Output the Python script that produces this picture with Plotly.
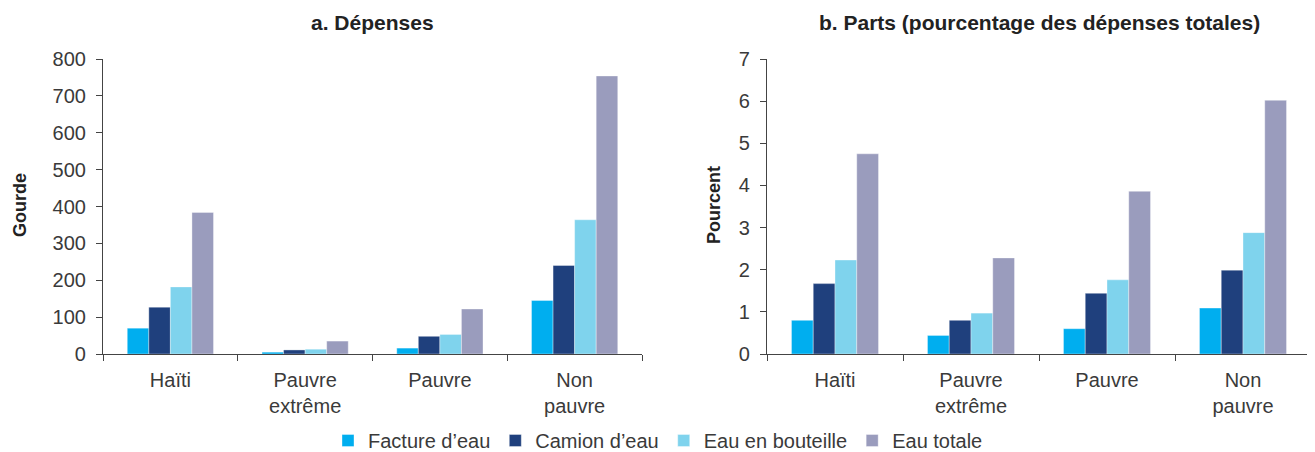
"""Water spending in Haiti: amounts and shares by poverty group."""

import plotly.graph_objects as go
from plotly.subplots import make_subplots

categories = ["Haïti", "Pauvre<br>extrême", "Pauvre", "Non<br>pauvre"]
series_names = ["Facture d\u2019eau", "Camion d\u2019eau", "Eau en bouteille", "Eau totale"]

# panel a: Gourde
depenses_facture = [70, 5, 16, 145]
depenses_camion = [127, 11, 48, 240]
depenses_bouteille = [182, 13, 53, 364]
depenses_totale = [384, 35, 122, 754]

# panel b: percent of total spending
parts_facture = [0.80, 0.44, 0.60, 1.09]
parts_camion = [1.67, 0.80, 1.44, 1.99]
parts_bouteille = [2.23, 0.97, 1.76, 2.88]
parts_totale = [4.75, 2.28, 3.86, 6.02]

COLORS = ["#00AEEF", "#1F407D", "#7FD3ED", "#9A9CBD"]
FONT = "Liberation Sans, Arial, sans-serif"
INK = "#3a3a3a"

W, H = 1315, 452
PAGE_PAD = 8  # default body margin of the html page


def xp(px):
    """Screen x pixel -> paper fraction."""
    return (px - PAGE_PAD) / W


def yp(px):
    """Screen y pixel (from top) -> paper fraction."""
    return (H - (px - PAGE_PAD)) / H


fig = make_subplots(rows=1, cols=2)

panel_a = [depenses_facture, depenses_camion, depenses_bouteille, depenses_totale]
panel_b = [parts_facture, parts_camion, parts_bouteille, parts_totale]

for i, name in enumerate(series_names):
    fig.add_bar(
        x=categories, y=panel_a[i], name=name, legendgroup=name,
        marker={"color": COLORS[i], "line": {"color": "rgba(255,255,255,0.6)", "width": 0.6}},
        row=1, col=1,
    )
    fig.add_bar(
        x=categories, y=panel_b[i], name=name, legendgroup=name, showlegend=False,
        marker={"color": COLORS[i], "line": {"color": "rgba(255,255,255,0.6)", "width": 0.6}},
        row=1, col=2,
    )

fig.update_layout(
    width=W,
    height=H,
    margin={"l": 0, "r": 0, "t": 0, "b": 0},
    paper_bgcolor="white",
    plot_bgcolor="white",
    barmode="group",
    bargap=0.36,
    bargroupgap=0,
    font={"family": FONT, "color": INK, "size": 20},
    legend={
        "orientation": "h", "x": xp(658), "xanchor": "center", "y": 0, "yanchor": "bottom",
        "font": {"size": 20}, "itemwidth": 30, "tracegroupgap": 0,
    },
)

axis_common = dict(
    showline=True, linecolor="#444", linewidth=1.2, showgrid=False, zeroline=False,
    ticks="outside", ticklen=6, tickcolor="#444", tickfont={"size": 20, "color": INK},
    automargin=False,
)

fig.update_xaxes(**axis_common, tickson="boundaries", ticklabelstandoff=8, fixedrange=True)
fig.update_xaxes(domain=[xp(103), xp(642)], row=1, col=1)
fig.update_xaxes(domain=[xp(767), xp(1311)], row=1, col=2)

fig.update_yaxes(**axis_common, ticklabelstandoff=6)
fig.update_yaxes(domain=[yp(354), yp(59)], range=[0, 800], dtick=100, row=1, col=1)
fig.update_yaxes(domain=[yp(354), yp(59)], range=[0, 7], dtick=1, row=1, col=2)

titles = [
    ("a. Dépenses", (103 + 642) / 2),
    ("b. Parts (pourcentage des dépenses totales)", (767 + 1311) / 2),
]
for text, x in titles:
    fig.add_annotation(
        text=f"<b>{text}</b>", x=xp(x), y=yp(22), xref="paper", yref="paper",
        showarrow=False, font={"size": 21, "color": "#222"},
        xanchor="center", yanchor="middle",
    )

for text, x in [("Gourde", 20), ("Pourcent", 714)]:
    fig.add_annotation(
        text=f"<b>{text}</b>", x=xp(x), y=yp(205), xref="paper", yref="paper",
        showarrow=False, textangle=-90, font={"size": 18, "color": "#222"},
        xanchor="center", yanchor="middle",
    )

fig.write_html("out.html")
